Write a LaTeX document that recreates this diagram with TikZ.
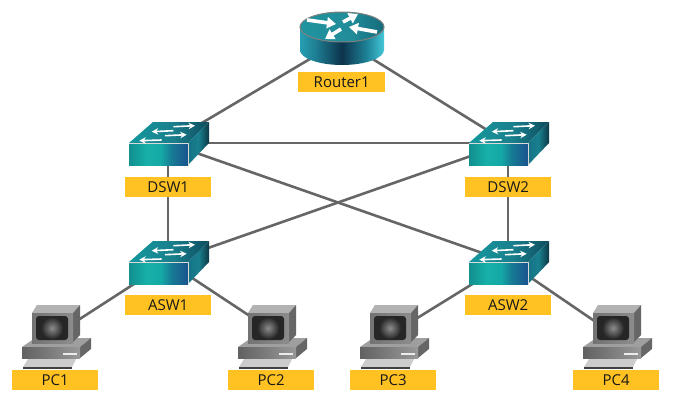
\documentclass[tikz,border=0pt]{standalone}
\usepackage{fontspec}
\setmainfont{Open Sans}
\usetikzlibrary{arrows.meta}
\definecolor{lbl}{HTML}{FFC222}
\definecolor{wire}{HTML}{666666}
\pgfdeclarehorizontalshading{swfront}{100bp}{
  rgb(0bp)=(0.07,0.56,0.56);
  rgb(25bp)=(0.07,0.56,0.56);
  rgb(40bp)=(0.09,0.69,0.66);
  rgb(52bp)=(0.08,0.66,0.65);
  rgb(61bp)=(0.09,0.48,0.58);
  rgb(75bp)=(0.10,0.33,0.56);
  rgb(100bp)=(0.10,0.33,0.56)}
\pgfdeclarehorizontalshading{swside}{100bp}{
  rgb(0bp)=(0.08,0.45,0.52);
  rgb(25bp)=(0.08,0.45,0.52);
  rgb(50bp)=(0.10,0.50,0.56);
  rgb(75bp)=(0.05,0.22,0.27);
  rgb(100bp)=(0.05,0.22,0.27)}
\pgfdeclarehorizontalshading{swtop}{100bp}{
  rgb(0bp)=(0.08,0.60,0.62);
  rgb(25bp)=(0.08,0.60,0.62);
  rgb(52bp)=(0.10,0.50,0.55);
  rgb(75bp)=(0.05,0.30,0.37);
  rgb(100bp)=(0.05,0.30,0.37)}
\pgfdeclarehorizontalshading{rtside}{100bp}{
  rgb(0bp)=(0.15,0.62,0.70);
  rgb(25bp)=(0.15,0.62,0.70);
  rgb(34bp)=(0.12,0.50,0.58);
  rgb(50bp)=(0.05,0.20,0.30);
  rgb(65bp)=(0.12,0.52,0.60);
  rgb(75bp)=(0.27,0.78,0.85);
  rgb(100bp)=(0.27,0.78,0.85)}
\pgfdeclarehorizontalshading{rttop}{100bp}{
  rgb(0bp)=(0.12,0.58,0.62);
  rgb(25bp)=(0.12,0.58,0.62);
  rgb(55bp)=(0.13,0.55,0.60);
  rgb(75bp)=(0.08,0.42,0.48);
  rgb(100bp)=(0.08,0.42,0.48)}
\tikzset{
  labelbox/.style={fill=lbl,minimum width=86pt,minimum height=20pt,inner sep=0pt,text=black!90,font=\fontsize{15}{17}\selectfont,anchor=north west},
  wirelink/.style={draw=wire,line width=2.6pt},
  devspot/.style={inner sep=0pt,minimum size=1pt},
  swarrow/.style={white,line width=1.6pt,-{Stealth[length=6.5pt,width=6.5pt]}},
  rtarrow/.style={white,line width=3.6pt,-{Triangle[length=9pt,width=11pt]}},
}
\newcommand{\swdev}[2]{%
\begin{scope}[shift={(#1,#2)}]
 \path[shading=swtop] (0,0)--(24,-21)--(80,-21)--(59,0)--cycle;
 \path[shading=swside] (59,0)--(80,-21)--(80,0)--(59,22)--cycle;
 \path[shading=swfront] (0,0) rectangle (59,22);
 \draw[white!70!gray,line width=.5pt,line join=round] (0,0)--(59,0)--(59,22);
 \draw[swarrow] (44.3,-16.3)--(66,-17.3);
 \draw[swarrow] (44.3,-12.3)--(22.7,-11.3);
 \draw[swarrow] (36,-7.3)--(57.7,-8.3);
 \draw[swarrow] (32.7,-3)--(10.3,-2.3);
\end{scope}}
\newcommand{\pcdev}[1]{%
\begin{scope}[shift={(#1,0)}]
 \fill[gray!40!white] (23,367)--(28,359)--(76,359)--(72,367)--cycle;
 \fill[black!75] (23,366.5) rectangle (72,368.5);
 \fill[gray!75!white] (22,347)--(35,338)--(91,338)--(80,347)--cycle;
 \fill[black!60] (80,347)--(91,338)--(91,349)--(80,358)--cycle;
 \shade[left color=black!62,right color=black!40] (22,347) rectangle (80,358);
 \fill[white!85!gray] (63,353) rectangle (77,354.5);
 \fill[gray!60!white] (32,313)--(37,305)--(80,305)--(73,313)--cycle;
 \fill[black!60] (73,313)--(80,305)--(80,335)--(73,342)--cycle;
 \shade[left color=black!55,right color=black!45] (32,313) rectangle (73,343);
 \fill[black!85,rounded corners=3pt] (36,316) rectangle (68,340);
 \shade[inner color=black!45,outer color=black!85] (52,328) circle (11);
\end{scope}}
\begin{document}
\begin{tikzpicture}[x=1pt,y=-1pt]
\useasboundingbox (0,0) rectangle (695,401);
\fill[white] (0,0) rectangle (695,401);
\node[devspot] (Router) at (342,40) {};
\node[devspot] (DSWa) at (168,143) {};
\node[devspot] (DSWb) at (508,143) {};
\node[devspot] (ASWa) at (168,262) {};
\node[devspot] (ASWb) at (508,262) {};
\node[devspot] (PCa) at (55,335) {};
\node[devspot] (PCb) at (268,328) {};
\node[devspot] (PCc) at (393,333) {};
\node[devspot] (PCd) at (612,333) {};
\foreach \s/\t in {Router/DSWa,Router/DSWb,DSWa/DSWb,DSWa/ASWa,DSWb/ASWb,DSWa/ASWb,DSWb/ASWa,ASWa/PCa,ASWa/PCb,ASWb/PCc,ASWb/PCd}
  \draw[wirelink] (\s.center)--(\t.center);
% router
\path[shading=rtside] (300,27)--(300,50) arc[start angle=180,end angle=0,x radius=42,y radius=15]--(384,27)--cycle;
\path[shading=rttop,draw=gray,line width=1pt] (342,27) ellipse[x radius=42,y radius=15];
\draw[rtarrow] (307,20)--(336,24);
\draw[rtarrow] (377,32)--(349,27);
\draw[rtarrow] (343,22)--(358,14);
\draw[rtarrow] (341,29)--(325,39);
% switches
\swdev{129}{143}\swdev{469}{143}\swdev{129}{262}\swdev{469}{262}
% PCs
\pcdev{0}\pcdev{216}\pcdev{338}\pcdev{561}
% labels
\node[labelbox,minimum width=87pt] (LR) at (298,72) {Router1};
\node[labelbox] (L1) at (125,177) {DSW1};
\node[labelbox] (L2) at (465,177) {DSW2};
\node[labelbox] (L3) at (125,295) {ASW1};
\node[labelbox] (L4) at (465,295) {ASW2};
\node[labelbox] (L5) at (12,370) {PC1};
\node[labelbox] (L6) at (228,370) {PC2};
\node[labelbox] (L7) at (350,370) {PC3};
\node[labelbox] (L8) at (573,370) {PC4};
\end{tikzpicture}
\end{document}
